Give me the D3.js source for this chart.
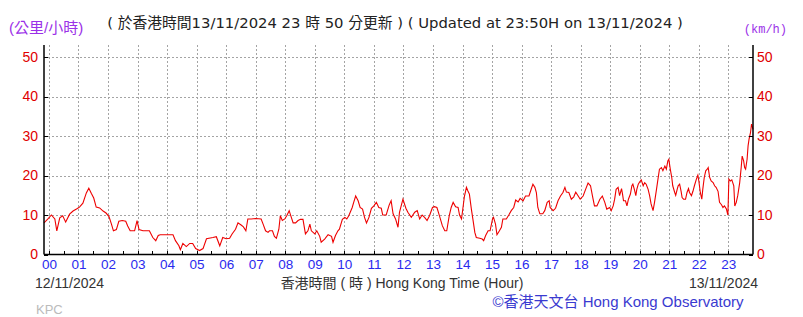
<!DOCTYPE html>
<html>
<head>
<meta charset="utf-8">
<script src="https://cdn.jsdelivr.net/npm/d3@7"></script>
<style>
    body { margin: 0; background: #fff; }
    svg { display: block; font-family: "Liberation Sans", Arial, "Noto Sans CJK TC", sans-serif; }
    .grid line { stroke: #a4a4a4; stroke-dasharray: 2,2; shape-rendering: crispEdges; }
    .grid .domain { display: none; }
    .axis .domain { display: none; }
    .axis line { stroke: #000; shape-rendering: crispEdges; }
</style>
</head>
<body>
<div id="chart"></div>
<script>
// minutes after 00:00 (first reading is 23:50 of the day before)
var minutes = [
    -10, -2, 5, 12, 16, 22, 28, 34, 42, 49, 56, 62, 69, 76, 81, 86, 91, 96, 103, 110,
    116, 122, 127, 131, 137, 142, 149, 156, 160, 165, 174, 179, 183, 191, 204, 211, 217, 222, 226, 252,
    257, 264, 267, 272, 279, 286, 292, 298, 306, 313, 320, 333, 340, 347, 353, 360,
    367, 372, 379, 384, 391, 395, 400, 404, 411, 420, 431, 435, 440, 445, 448, 454, 458, 462, 467, 470,
    474, 479, 483, 488, 490, 496, 501, 506, 511, 516, 521, 526, 530, 533, 540, 544, 550, 553, 560, 567,
    574, 577, 582, 587, 590, 596, 601, 605, 609, 616, 619, 623, 628, 632, 637, 641, 645, 650, 655, 660,
    665, 670, 675, 678, 685, 691, 695, 699, 704, 709, 712, 719, 725, 729, 736, 743, 748,
    753, 758, 763, 768, 773, 779, 783, 788, 792, 795, 799, 804, 808, 813, 817, 821, 826, 831, 834, 838,
    841, 844, 848, 851, 854, 858, 861, 865, 868, 875, 880, 883, 887, 892, 896, 901, 903, 907, 910, 915,
    919, 922, 929, 934, 939, 944, 948, 953, 957, 963, 968, 975, 980, 983, 987, 990, 993, 997, 1003, 1007,
    1012, 1016, 1018, 1024, 1029, 1034, 1039, 1044, 1048, 1051, 1056, 1061, 1066, 1070, 1075, 1079, 1085, 1090, 1095, 1100,
    1104, 1108, 1113, 1119, 1124, 1129, 1133,
    1139, 1142, 1146, 1149, 1152, 1156, 1159, 1163, 1165, 1167, 1171, 1174, 1177, 1181, 1184, 1186, 1189, 1192, 1194, 1197,
    1200, 1203, 1207, 1210, 1213, 1217, 1220, 1223, 1227, 1230, 1234, 1237, 1240, 1244, 1247, 1251, 1254, 1257, 1259, 1262,
    1265, 1267, 1271, 1273, 1276, 1278, 1281, 1284, 1286, 1289, 1293, 1296, 1299, 1301, 1305, 1308, 1311, 1315, 1318, 1320,
    1323, 1326, 1328, 1331, 1334, 1337, 1339, 1342, 1345, 1349, 1352, 1355, 1359, 1362, 1366, 1369, 1372, 1376, 1379, 1381,
    1384, 1387, 1391, 1393, 1396, 1399, 1403, 1406, 1408, 1411, 1413, 1415, 1418, 1420, 1422, 1425, 1427, 1430
];

// 10-minute mean wind speed, km/h
var speeds = [
    8, 9, 10, 9, 6, 9.3, 9.8, 8.2, 10.2, 11, 11.5, 12, 13, 15.6, 16.8, 15.5, 14.3, 12, 11.8, 11,
    10.5, 9.6, 7.7, 6, 6.3, 8.4, 8.6, 8.4, 7.2, 6, 6, 8.6, 6.3, 6, 6, 4.3, 3.5, 4.8, 5, 5,
    3.5, 2.2, 1.2, 2.8, 2, 2.8, 2.8, 1.5, 1, 1.5, 4, 4.3, 4.5, 2.2, 4.3, 4,
    4.1, 5.2, 6.4, 8, 7.4, 7, 6, 9, 9, 9.1, 9, 7.7, 6, 5.6, 6, 6, 4.6, 4.1, 6.4, 9.8,
    8.6, 9, 9.8, 11.1, 10.3, 8, 8, 8.6, 8.9, 8.9, 5.2, 6, 7.7, 6, 5.2, 6, 4.6, 3.1, 3.9, 5,
    4.6, 3.1, 4.8, 6, 6.4, 8.9, 9.4, 9, 9.8, 11.9, 13.2, 14.8, 13.6, 11.9, 11.5, 9.4, 8, 9.4, 11.7, 12.3,
    13.2, 11.9, 11.7, 10, 10, 12.5, 13.6, 10.3, 9, 6.9, 10.7, 14, 11.7, 10.7, 9.4, 10.7, 11.1,
    9, 10, 9.4, 8.6, 9.8, 11.9, 12.1, 11.9, 10.3, 9, 7.3, 6, 6, 9.8, 11.9, 13.2, 12.1, 11.9, 10, 9,
    11.9, 14.8, 17, 16.1, 15.3, 11.5, 9, 5.6, 4.3, 4.1, 3.9, 3.5, 4.8, 6, 6, 9, 9.4, 7.7, 5, 6,
    6.9, 9, 9, 10, 11.1, 11.9, 13.8, 13.3, 14.2, 13.6, 14.8, 14.8, 16.7, 17.8, 17, 15.7, 11.9, 10.3, 10.3, 11.1,
    13.2, 13.6, 11.9, 11.1, 11.7, 13.6, 14.8, 15.7, 17, 15.8, 15.7, 14, 14.6, 15.8, 14.8, 14, 14.8, 16.5, 18.1, 17.4,
    14.8, 12.3, 12.3, 14, 14.8, 13.2, 11.5,
    11.9, 11.1, 12.3, 14, 16.5, 17, 14.9, 16.7, 15.3, 13.6, 13.6, 12.3, 14, 15.3, 17.4, 17.8, 16.5, 14.9, 16.5, 17.8,
    18.4, 18.9, 17.4, 18.2, 17.8, 16.5, 14.9, 12.8, 11.1, 13.2, 16.5, 19.1, 21.6, 22, 21.2, 22.4, 21.6, 23.7, 24.1, 21.6,
    19.5, 17.4, 15.7, 15, 16.5, 17.4, 17.8, 16, 14.4, 14, 14, 15.7, 16.7, 15.7, 14.9, 16, 17.4, 19.1, 20.1, 18.6,
    15.7, 14, 16.5, 19.5, 21.2, 21.6, 22, 19.5, 18.6, 18.2, 17.4, 17, 16, 13.2, 12.6, 11.9, 12.3, 11.5, 10, 19.1,
    18.6, 18.9, 17.4, 12.3, 13.2, 14.9, 18.2, 22, 24.9, 23.7, 22, 21.6, 24.1, 27.5, 29.2, 30.9, 33, 31.7
];

var hourLabels = ['00', '01', '02', '03', '04', '05', '06', '07', '08', '09', '10', '11',
                  '12', '13', '14', '15', '16', '17', '18', '19', '20', '21', '22', '23'];
var speedTicks = [0, 10, 20, 30, 40, 50];

var width = 803,
    height = 317,
    plotLeft = 44,
    plotRight = 753,
    plotTop = 45,
    plotBottom = 254.5;

var svg = d3.select('#chart').append('svg')
        .attr('width', width)
        .attr('height', height),

    xScale = d3.scaleLinear()
        .domain([-10, 1430])
        .range([plotLeft, plotRight]),
    yScale = d3.scaleLinear()
        .domain([0, 50])
        .range([plotBottom, 57]),

    hourMinutes = hourLabels.map(function(d, i) { return i*60; }),
    halfHours = d3.range(0, 1440, 30);

// dotted grid
svg.append('g')
    .attr('class', 'grid')
    .attr('transform', 'translate(0,' + plotBottom + ')')
    .call(d3.axisBottom(xScale)
        .tickValues(hourMinutes)
        .tickSize(-(plotBottom - plotTop))
        .tickFormat(''));

svg.append('g')
    .attr('class', 'grid')
    .attr('transform', 'translate(' + plotLeft + ',0)')
    .call(d3.axisLeft(yScale)
        .tickValues(speedTicks.slice(1))
        .tickSize(-(plotRight - plotLeft))
        .tickFormat(''));

// wind line
var pts = minutes.map(function(m, i) { return [m, speeds[i]]; });

svg.append('path')
    .datum(pts)
    .attr('fill', 'none')
    .attr('stroke', '#ee0000')
    .attr('stroke-width', 1.1)
    .attr('d', d3.line()
        .x(function(d) { return xScale(d[0]); })
        .y(function(d) { return yScale(d[1]); }));

// axes
var xx = svg.append('g')
    .attr('class', 'axis')
    .attr('transform', 'translate(0,' + plotBottom + ')')
    .call(d3.axisBottom(xScale)
        .tickValues(halfHours)
        .tickSizeInner(-4)
        .tickSizeOuter(0)
        .tickPadding(5)
        .tickFormat(function(d) { return d % 60 ? '' : hourLabels[d/60]; }));

xx.selectAll('text')
    .attr('fill', '#2a2aee')
    .style('font-size', '13.5px');

svg.append('g')
    .attr('class', 'axis yaxis')
    .attr('transform', 'translate(' + plotLeft + ',0)')
    .call(d3.axisLeft(yScale)
        .tickValues(speedTicks)
        .tickSizeInner(-4)
        .tickSizeOuter(0)
        .tickPadding(6));

svg.append('g')
    .attr('class', 'axis yaxis')
    .attr('transform', 'translate(' + plotRight + ',0)')
    .call(d3.axisRight(yScale)
        .tickValues(speedTicks)
        .tickSizeInner(-4)
        .tickSizeOuter(0)
        .tickPadding(4));

svg.selectAll('.yaxis text')
    .attr('fill', '#e00000')
    .style('font-family', '"Liberation Sans Narrow", "Arial Narrow", "Liberation Sans", sans-serif')
    .style('font-size', '14px');

// frame lines (left, right, bottom)
svg.append('g')
    .attr('stroke', '#000')
    .attr('stroke-width', 1.5)
    .selectAll('line')
    .data([[plotLeft, plotTop, plotLeft, plotBottom],
           [plotRight, plotTop, plotRight, plotBottom],
           [plotLeft, plotBottom, plotRight, plotBottom]])
    .enter()
    .append('line')
    .attr('x1', function(d) { return d[0]; })
    .attr('y1', function(d) { return d[1]; })
    .attr('x2', function(d) { return d[2]; })
    .attr('y2', function(d) { return d[3]; });

// texts
var texts = [
    {t: '(公里/小時)', x: 9, y: 33, size: 15, fill: '#9b30e8', anchor: 'start'},
    {t: '(km/h)', x: 787, y: 33, size: 12, fill: '#9b30e8', anchor: 'end', font: '"Liberation Mono", monospace'},
    {t: '( 於香港時間13/11/2024 23 時 50 分更新 ) ( Updated at 23:50H on 13/11/2024 )', x: 395, y: 28, size: 14.8, fill: '#222', anchor: 'middle', font: '"DejaVu Sans", "Noto Sans CJK TC", sans-serif'},
    {t: '12/11/2024', x: 35, y: 288, size: 14, fill: '#333', anchor: 'start'},
    {t: '香港時間 ( 時 ) Hong Kong Time (Hour)', x: 402, y: 288, size: 14, fill: '#333', anchor: 'middle'},
    {t: '13/11/2024', x: 758, y: 288, size: 14, fill: '#333', anchor: 'end'},
    {t: '©香港天文台 Hong Kong Observatory', x: 618, y: 307, size: 15, fill: '#3a3ad0', anchor: 'middle'},
    {t: 'KPC', x: 36, y: 314, size: 13, fill: '#bbb', anchor: 'start'}
];

svg.append('g')
    .selectAll('text')
    .data(texts)
    .enter()
    .append('text')
    .attr('x', function(d) { return d.x; })
    .attr('y', function(d) { return d.y; })
    .attr('fill', function(d) { return d.fill; })
    .attr('text-anchor', function(d) { return d.anchor; })
    .style('font-size', function(d) { return d.size + 'px'; })
    .style('font-family', function(d) { return d.font || null; })
    .text(function(d) { return d.t; });
</script>
</body>
</html>
